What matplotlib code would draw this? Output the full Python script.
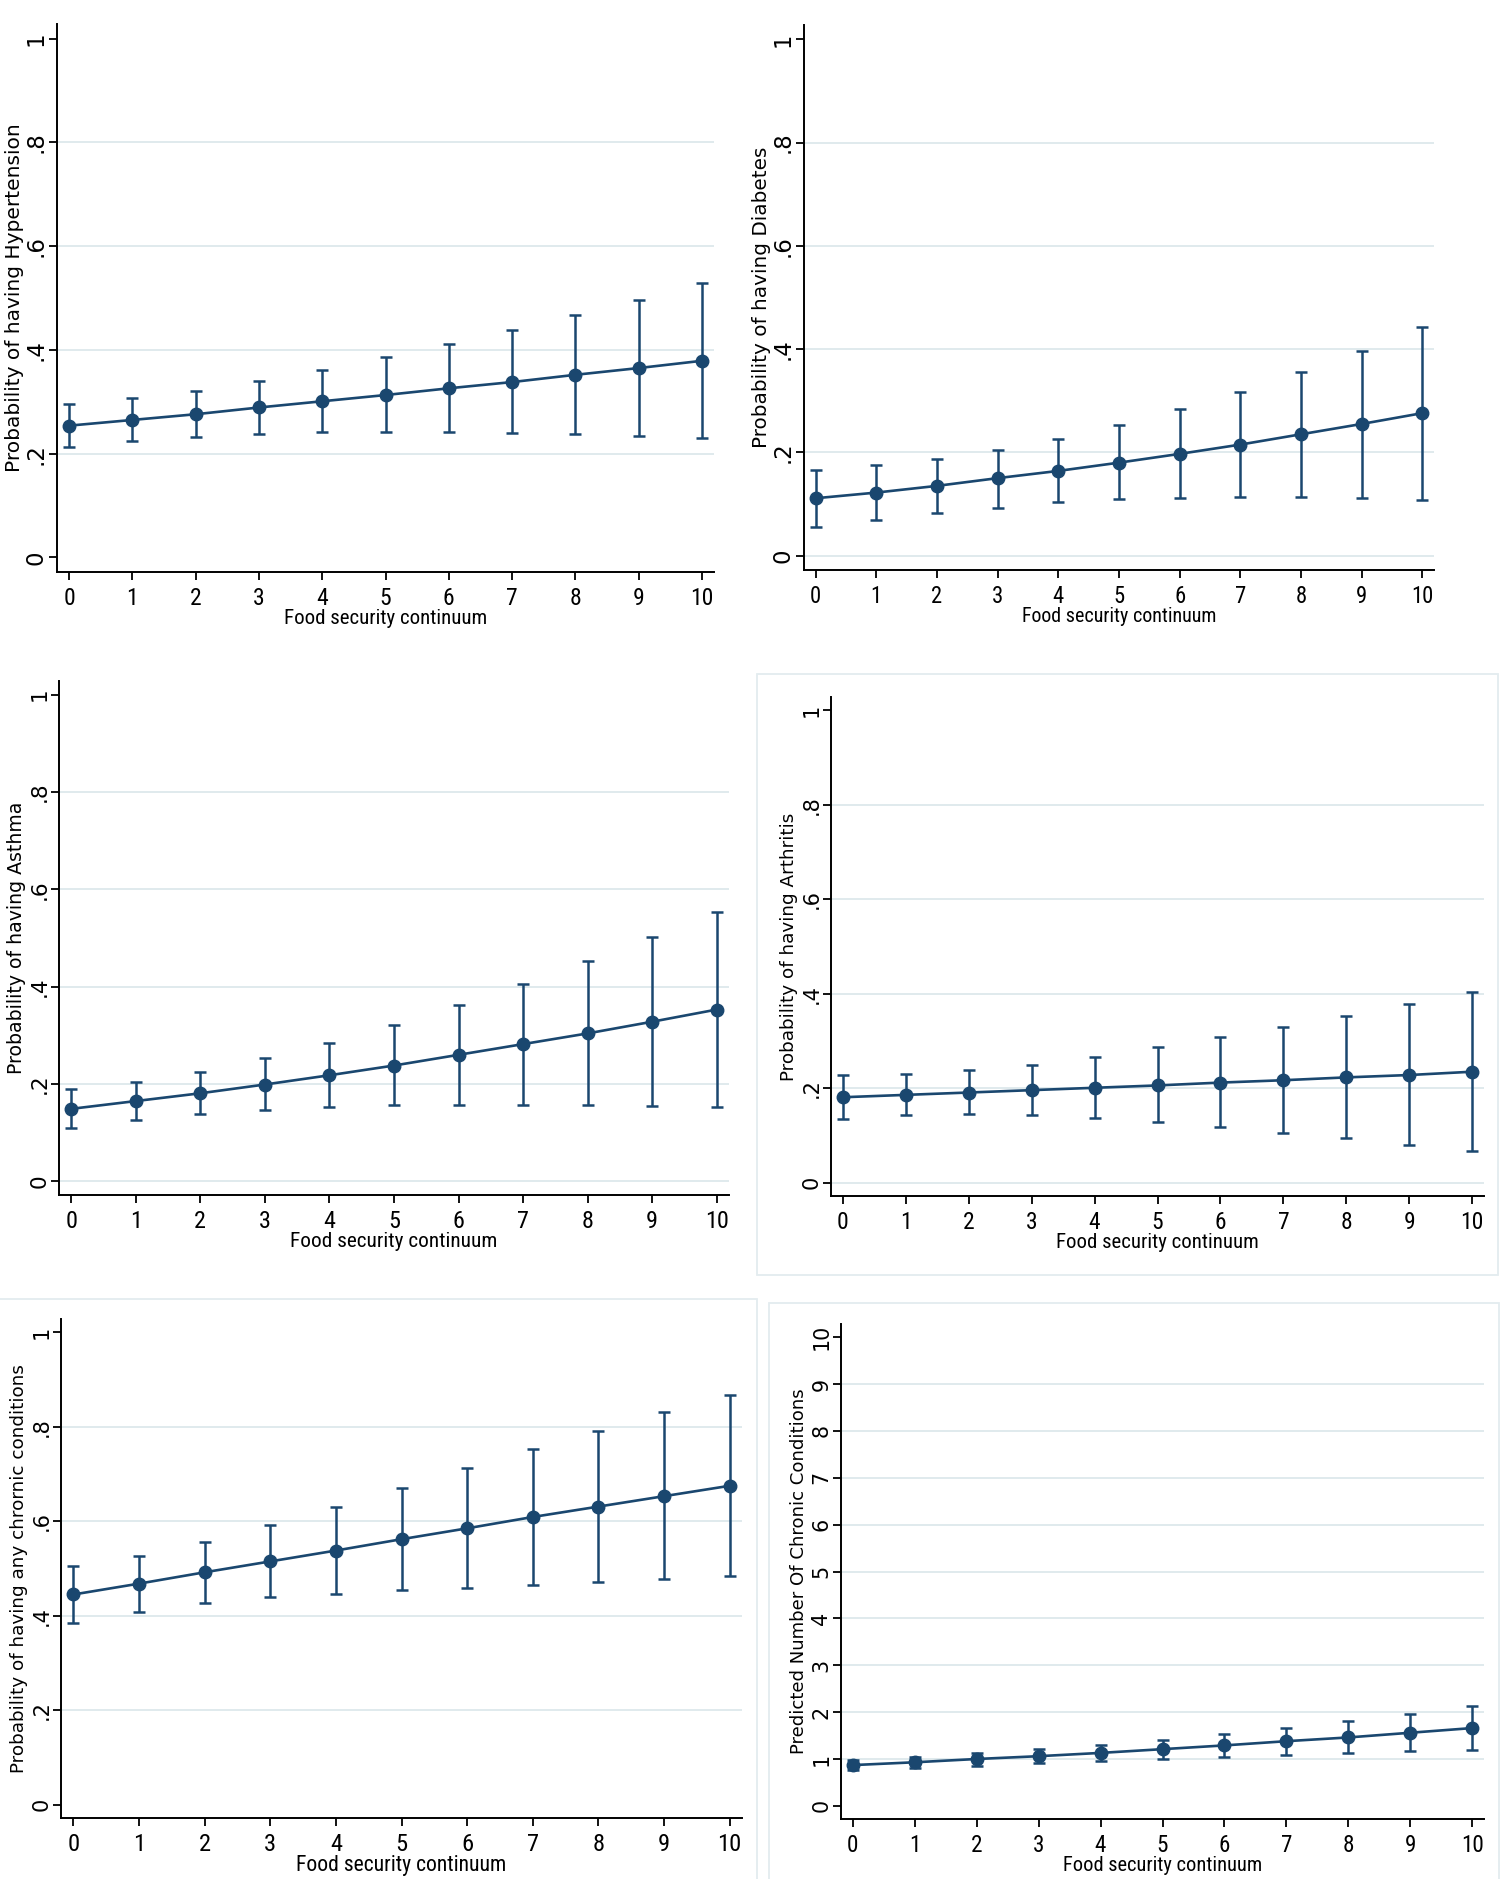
import numpy as np
import matplotlib
matplotlib.use("Agg")
import matplotlib.pyplot as plt
from matplotlib import font_manager
from matplotlib.patches import Rectangle


# -----------------------------
# Data
# -----------------------------
food_security = list(range(11))

hyper_est = [0.254, 0.265, 0.276, 0.289, 0.301, 0.313, 0.326, 0.338, 0.352, 0.365, 0.379]
hyper_lo = [0.212, 0.224, 0.233, 0.237, 0.241, 0.241, 0.241, 0.239, 0.237, 0.235, 0.231]
hyper_hi = [0.296, 0.307, 0.321, 0.340, 0.362, 0.386, 0.412, 0.439, 0.468, 0.496, 0.528]

diab_est = [0.111, 0.122, 0.135, 0.150, 0.164, 0.180, 0.197, 0.215, 0.235, 0.255, 0.276]
diab_lo = [0.055, 0.069, 0.082, 0.093, 0.103, 0.109, 0.112, 0.113, 0.113, 0.112, 0.108]
diab_hi = [0.165, 0.176, 0.188, 0.205, 0.226, 0.252, 0.283, 0.317, 0.356, 0.397, 0.443]

asthma_est = [0.149, 0.165, 0.181, 0.199, 0.218, 0.238, 0.260, 0.282, 0.304, 0.328, 0.353]
asthma_lo = [0.110, 0.126, 0.138, 0.147, 0.153, 0.156, 0.157, 0.157, 0.156, 0.155, 0.153]
asthma_hi = [0.189, 0.204, 0.224, 0.253, 0.284, 0.322, 0.362, 0.406, 0.453, 0.503, 0.553]

arth_est = [0.181, 0.186, 0.191, 0.196, 0.201, 0.206, 0.212, 0.217, 0.223, 0.228, 0.235]
arth_lo = [0.135, 0.143, 0.145, 0.143, 0.137, 0.128, 0.117, 0.106, 0.094, 0.080, 0.067]
arth_hi = [0.228, 0.230, 0.238, 0.250, 0.267, 0.287, 0.308, 0.329, 0.353, 0.378, 0.404]

any_est = [0.445, 0.468, 0.492, 0.515, 0.538, 0.562, 0.585, 0.609, 0.631, 0.653, 0.675]
any_lo = [0.384, 0.409, 0.427, 0.439, 0.447, 0.454, 0.459, 0.465, 0.471, 0.478, 0.485]
any_hi = [0.506, 0.527, 0.557, 0.592, 0.630, 0.671, 0.712, 0.752, 0.792, 0.831, 0.867]

count_est = [0.87, 0.93, 1.00, 1.06, 1.13, 1.21, 1.29, 1.38, 1.46, 1.56, 1.66]
count_lo = [0.76, 0.81, 0.85, 0.92, 0.96, 1.01, 1.04, 1.09, 1.13, 1.17, 1.20]
count_hi = [0.97, 1.05, 1.12, 1.21, 1.29, 1.41, 1.53, 1.66, 1.81, 1.95, 2.14]

y_labels = [
    "Probability of having Hypertension",
    "Probability of having Diabetes",
    "Probability of having Asthma",
    "Probability of having Arthritis",
    "Probability of having any chrornic conditions",
    "Predicted Number Of Chronic Conditions",
]
x_label = "Food security continuum"

prob_ticks = [0, 0.2, 0.4, 0.6, 0.8, 1]
prob_tick_labels = ["0", ".2", ".4", ".6", ".8", "1"]
count_ticks = list(range(11))
count_tick_labels = [str(v) for v in count_ticks]


# -----------------------------
# Style / layout
# -----------------------------
W, H = 1500, 1879
NAVY = "#1a476f"
GRID = "#e0eaed"
BOX = "#e3ecef"
YFONT = ["DejaVu Sans"]


def pick_narrow_font():
    # the x-axis text in the original looks like Arial Narrow
    fonts = font_manager.fontManager.ttflist
    names = {f.name for f in fonts}
    for name, tick, label in [("Liberation Sans Narrow", 17, 15.5), ("Arial Narrow", 17, 15.5),
                              ("Roboto Condensed", 17, 15), ("DejaVu Sans Condensed", 15, 14)]:
        if name in names:
            return {"family": [name]}, tick, label
    if any(f.name == "DejaVu Sans" and f.stretch == "condensed" for f in fonts):
        return {"family": ["DejaVu Sans"], "fontstretch": "condensed"}, 15, 14
    return {"family": ["Liberation Sans"]}, 14, 13.5


XFONT, XTICK_SIZE, XLABEL_SIZE = pick_narrow_font()

# axes rectangles in pixels: left, top, right, bottom
panel_px = [
    (57, 24, 714, 572),
    (804, 25, 1434, 570),
    (59, 681, 729, 1195),
    (831, 697, 1484, 1196),
    (61, 1319, 742, 1818),
    (841, 1324, 1484, 1819),
]
# which panels show a gridline at zero
grid_at_zero = [False, True, True, True, False, False]

# each graph in the original was resized a little differently
REF_W = panel_px[0][2] - panel_px[0][0]
REF_H = panel_px[0][3] - panel_px[0][1]


def px_rect(l, t, r, b):
    return [l / W, 1 - b / H, (r - l) / W, (b - t) / H]


def draw_panel(ax, rect, est, lo, hi, ylabel, ticks, tick_labels, top, zero_grid):
    est = np.array(est)
    lo = np.array(lo)
    hi = np.array(hi)
    width_px = rect[2] - rect[0]
    height_px = rect[3] - rect[1]
    sx = width_px / REF_W
    sy = height_px / REF_H

    # gridlines (skip the top tick, optionally the zero tick)
    for t in ticks[:-1]:
        if t == 0 and not zero_grid:
            continue
        ax.axhline(t, color=GRID, lw=1.4, zorder=0)

    ax.errorbar(
        food_security, est, yerr=[est - lo, hi - est],
        fmt="-o", color=NAVY, ecolor=NAVY, lw=1.9, elinewidth=1.8,
        capsize=4.2, capthick=1.8, markersize=9, zorder=3,
    )

    ax.set_xlim(-0.19, 10.19)
    ax.set_ylim(-0.028 * top, 1.028 * top)

    ax.set_xticks(food_security)
    ax.set_xticklabels([str(v) for v in food_security], fontsize=XTICK_SIZE * sx, **XFONT)
    ax.set_yticks(ticks)
    ax.set_yticklabels(tick_labels, fontsize=16.5 * sy, family=YFONT,
                       rotation=90, va="center")

    ax.set_xlabel(x_label, labelpad=-1, fontsize=XLABEL_SIZE * sx, **XFONT)
    ax.set_ylabel(ylabel, fontsize=14.5 * sy, family=YFONT)
    ax.yaxis.set_label_coords(-33 / width_px, 0.5)

    for side in ["top", "right"]:
        ax.spines[side].set_visible(False)
    for side in ["left", "bottom"]:
        ax.spines[side].set_linewidth(1.4)
        ax.spines[side].set_color("black")
    ax.tick_params(axis="x", length=6, width=1.3, color="black", pad=5)
    ax.tick_params(axis="y", length=5.5, width=1.3, color="black", pad=1.5)
    ax.set_facecolor("none")


# -----------------------------
# Main
# -----------------------------
fig = plt.figure(figsize=(W / 100, H / 100), dpi=100)

# light frames around some of the original graphs
fig.add_artist(Rectangle((757 / W, 1 - 1275 / H), (1498 - 757) / W, (1275 - 674) / H,
                         transform=fig.transFigure, fill=False, ec=BOX, lw=1.3))
fig.add_artist(Rectangle((-0.01, -0.01), 757 / W + 0.01, 1 - 1299 / H + 0.01,
                         transform=fig.transFigure, fill=False, ec=BOX, lw=1.3))
fig.add_artist(Rectangle((769 / W, -0.01), 1 - 769 / W - 0.001, 1 - 1303 / H + 0.01,
                         transform=fig.transFigure, fill=False, ec=BOX, lw=1.3))

series = [
    (hyper_est, hyper_lo, hyper_hi),
    (diab_est, diab_lo, diab_hi),
    (asthma_est, asthma_lo, asthma_hi),
    (arth_est, arth_lo, arth_hi),
    (any_est, any_lo, any_hi),
    (count_est, count_lo, count_hi),
]

for i, (est, lo, hi) in enumerate(series):
    rect = panel_px[i]
    ax = fig.add_axes(px_rect(*rect))
    if i == 5:
        draw_panel(ax, rect, est, lo, hi, y_labels[i], count_ticks, count_tick_labels,
                   10, grid_at_zero[i])
    else:
        draw_panel(ax, rect, est, lo, hi, y_labels[i], prob_ticks, prob_tick_labels,
                   1, grid_at_zero[i])

fig.savefig("out.png", dpi=100, facecolor="white")
